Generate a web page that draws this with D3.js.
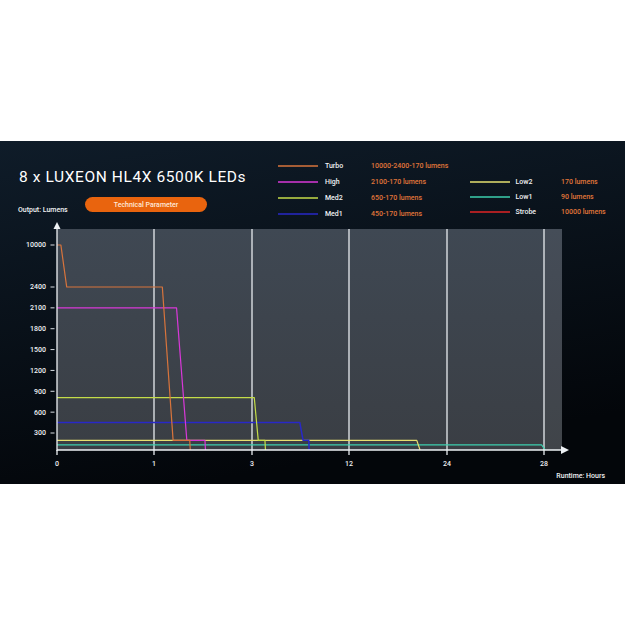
<!DOCTYPE html>
<html>
<head>
<meta charset="utf-8">
<script src="https://cdn.jsdelivr.net/npm/d3@7"></script>
<style>
  html, body { margin: 0; padding: 0; background: #fff; }
  svg { display: block; font-family: Roboto, "DejaVu Sans", sans-serif; }
  .small { font-weight: 500; }
</style>
</head>
<body>
<svg id="chart" width="625" height="625"></svg>
<script>
// runtime curves: [hours, lumens]
const turbo = [[0, 10000], [0.04, 10000], [0.1, 2400], [1.17, 2400], [1.39, 170], [1.73, 170], [1.74, 0]];
const high  = [[0, 2100], [1.46, 2100], [1.67, 170], [2.04, 170], [2.05, 0]];
const med2  = [[0, 810], [3.21, 810], [3.58, 170], [4.2, 170], [4.25, 0]];
const med1  = [[0, 450], [7.44, 450], [7.74, 170], [8.27, 170], [8.3, 0]];
const low2  = [[0, 170], [20.3, 170], [20.7, 0]];
const low1  = [[0, 90], [27.9, 90], [28.05, 0]];

const modeNames  = ['Turbo', 'High', 'Med2', 'Med1', 'Low2', 'Low1', 'Strobe'];
const modeLabels = ['10000-2400-170 lumens', '2100-170 lumens', '650-170 lumens', '450-170 lumens',
                    '170 lumens', '90 lumens', '10000 lumens'];
const modeColors = ['#d8743c', '#d838d8', '#c4dc48', '#2828c8', '#e6e070', '#3ccfae', '#e02424'];
const modeData   = [turbo, high, med2, med1, low2, low1, null];   // strobe has no curve

const xTicks = [0, 1, 3, 12, 24, 28];
const yTicks = [10000, 2400, 2100, 1800, 1500, 1200, 900, 600, 300];

const svg = d3.select('#chart');
const defs = svg.append('defs');

const bg = defs.append('linearGradient').attr('id', 'bg').attr('x1', 0).attr('y1', 0).attr('x2', 0.3).attr('y2', 1);
bg.append('stop').attr('offset', '0%').attr('stop-color', '#0f1c29');
bg.append('stop').attr('offset', '100%').attr('stop-color', '#03060a');

const pg = defs.append('linearGradient').attr('id', 'panel').attr('x1', 0).attr('y1', 0).attr('x2', 0).attr('y2', 1);
pg.append('stop').attr('offset', '0%').attr('stop-color', '#3f4853');
pg.append('stop').attr('offset', '100%').attr('stop-color', '#3a3e44');

// dark band
svg.append('rect').attr('x', 0).attr('y', 141).attr('width', 625).attr('height', 343).attr('fill', 'url(#bg)');

// scales: both axes are piecewise (evenly spaced ticks)
const x = d3.scaleLinear().domain(xTicks).range([57, 154, 252, 349, 447, 544]);
const y = d3.scaleLinear().domain([0, 300, 2400, 10000]).range([450, 433, 287, 245]);

// plot panel
svg.append('rect').attr('x', 57).attr('y', 229).attr('width', 505).attr('height', 221).attr('fill', 'url(#panel)');
svg.append('rect').attr('x', x(28)).attr('y', 229).attr('width', 562 - x(28)).attr('height', 221)
  .attr('fill', '#ffffff').attr('opacity', 0.03);

// vertical grid lines
svg.append('g').selectAll('line').data(xTicks.slice(1)).join('line')
  .attr('x1', d => x(d)).attr('x2', d => x(d)).attr('y1', 229).attr('y2', 455)
  .attr('stroke', '#e8ecf0').attr('stroke-width', 1.3);

// curves
const line = d3.line().x(d => x(d[0])).y(d => y(d[1]));
const order = [5, 4, 3, 2, 1, 0];
svg.append('g').selectAll('path').data(order).join('path')
  .attr('d', i => line(modeData[i]))
  .attr('fill', 'none')
  .attr('stroke', i => modeColors[i])
  .attr('stroke-width', i => i === 3 ? 1.5 : 1.2)
  .attr('stroke-linejoin', 'round');

// axes
const axisColor = '#eef2f5';
svg.append('line').attr('x1', 57).attr('x2', 57).attr('y1', 228).attr('y2', 451)
  .attr('stroke', axisColor).attr('stroke-width', 1.3);
svg.append('path').attr('d', 'M57,222 L53.5,229 L60.5,229 Z').attr('fill', axisColor);
svg.append('line').attr('x1', 57).attr('x2', 562).attr('y1', 450).attr('y2', 450)
  .attr('stroke', axisColor).attr('stroke-width', 1.3);
svg.append('path').attr('d', 'M569,450 L561,446 L561,454 Z').attr('fill', axisColor);
svg.append('line').attr('x1', 57).attr('x2', 57).attr('y1', 450).attr('y2', 455)
  .attr('stroke', axisColor).attr('stroke-width', 1.3);

// y ticks + labels
const yg = svg.append('g').selectAll('g').data(yTicks).join('g')
  .attr('transform', d => `translate(0,${y(d)})`);
yg.append('line').attr('x1', 50.5).attr('x2', 54.5).attr('stroke', '#d8dde2').attr('stroke-width', 1);
yg.append('text').attr('class', 'small').attr('x', 46).attr('dy', '0.35em').attr('text-anchor', 'end')
  .attr('fill', '#f0f2f4').attr('font-size', 7).text(d => d);

// x labels
svg.append('g').selectAll('text').data(xTicks).join('text').attr('class', 'small')
  .attr('x', d => x(d)).attr('y', 464).attr('dy', '0.35em').attr('text-anchor', 'middle')
  .attr('fill', '#f0f2f4').attr('font-size', 7).text(d => d);

svg.append('text').attr('class', 'small').attr('x', 605).attr('y', 476).attr('dy', '0.35em').attr('text-anchor', 'end')
  .attr('fill', '#f0f2f4').attr('font-size', 7).text('Runtime: Hours');

// title and labels
svg.append('text').attr('x', 19).attr('y', 182).attr('fill', '#ffffff').attr('font-size', 15.5)
  .attr('letter-spacing', 0.6).text('8 x LUXEON HL4X 6500K LEDs');
svg.append('text').attr('class', 'small').attr('x', 18).attr('y', 212).attr('fill', '#f0f2f4').attr('font-size', 7)
  .text('Output: Lumens');
svg.append('rect').attr('x', 85).attr('y', 197).attr('width', 122).attr('height', 15).attr('rx', 7.5)
  .attr('fill', '#e9640e');
svg.append('text').attr('class', 'small').attr('x', 146).attr('y', 204.5).attr('dy', '0.35em').attr('text-anchor', 'middle')
  .attr('fill', '#ffe8d8').attr('font-size', 7).text('Technical Parameter');

// legend: two columns
const legendPos = [
  [278, 166], [278, 182], [278, 198], [278, 214],
  [470, 182], [470, 197], [470, 212]
];
const lg = svg.append('g').selectAll('g').data(modeNames).join('g')
  .attr('transform', (d, i) => `translate(${legendPos[i][0]},${legendPos[i][1]})`);
lg.append('line').attr('x1', 0).attr('x2', 40).attr('stroke', (d, i) => modeColors[i]).attr('stroke-width', 1.5);
lg.append('text').attr('class', 'small').attr('x', (d, i) => i < 4 ? 47 : 45.5).attr('dy', '0.35em')
  .attr('fill', '#f0f2f4').attr('font-size', 7).text(d => d);
lg.append('text').attr('class', 'small').attr('x', (d, i) => i < 4 ? 93 : 91).attr('dy', '0.35em')
  .attr('fill', '#e0763a').attr('font-size', 7).text((d, i) => modeLabels[i]);
</script>
</body>
</html>
